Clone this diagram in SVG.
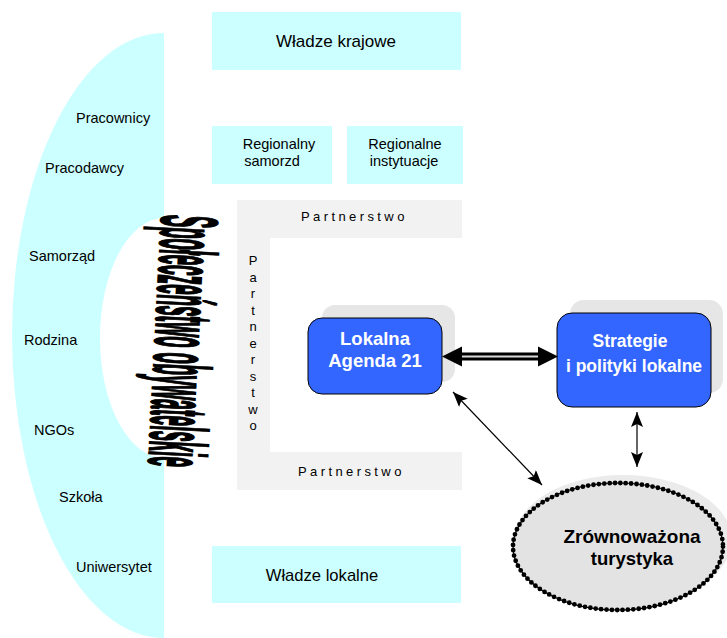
<svg xmlns="http://www.w3.org/2000/svg" width="727" height="638" viewBox="0 0 727 638">
<style>
text{font-family:"Liberation Sans",Arial,sans-serif;fill:#000}
.lbl{font-size:14.5px}
.box{fill:#ccffff}
.cyan{fill:#ccffff}
.pt{font-size:13px;letter-spacing:3.4px}
.blue{fill:#3366ff;stroke:#000;stroke-width:1}
.shadow{fill:#e6e6e6}
.wt{fill:#fff;font-weight:bold;text-anchor:middle}
.ln{stroke:#000;stroke-width:1.2;fill:none}
</style>
<defs>
<marker id="ah" markerUnits="userSpaceOnUse" markerWidth="16" markerHeight="12" refX="15" refY="6" orient="auto-start-reverse" viewBox="0 0 16 12">
<path d="M0,0 L15,6 L0,12 L3,6 Z" fill="#000"/>
</marker>
</defs>

<g id="civil-society">
<path class="cyan" d="M164,33 A152,302.5 0 0 0 164,638 L164,458 A64,120 0 0 1 164,218 Z"/>
<text transform="translate(162,214) rotate(93) scale(0.2295,1)" font-size="80" font-weight="bold" stroke="#000" stroke-width="2.5">Społeczeństwo obywatelskie</text>
</g>

<g id="labels-left">
<text class="lbl" x="76" y="123">Pracownicy</text>
<text class="lbl" x="45" y="173">Pracodawcy</text>
<text class="lbl" x="29" y="261">Samorząd</text>
<text class="lbl" x="24" y="345">Rodzina</text>
<text class="lbl" x="34" y="435">NGOs</text>
<text class="lbl" x="59" y="502">Szkoła</text>
<text class="lbl" x="76" y="572">Uniwersytet</text>
</g>

<g id="wladze-krajowe">
<rect class="box" x="212" y="12" width="249" height="58"/>
<text x="336" y="47" font-size="17" text-anchor="middle">Władze krajowe</text>
</g>

<g id="regionalny-samorzad">
<rect class="box" x="212" y="126" width="120" height="58"/>
<text x="279" y="149" font-size="14.5" text-anchor="middle">Regionalny</text>
<text x="272" y="166" font-size="14.5" text-anchor="middle">samorzd</text>
</g>

<g id="regionalne-instytucje">
<rect class="box" x="347" y="126" width="116" height="58"/>
<text x="405" y="149" font-size="14.5" text-anchor="middle">Regionalne</text>
<text x="404" y="166" font-size="14.5" text-anchor="middle">instytuacje</text>
</g>

<g id="wladze-lokalne">
<rect class="box" x="212" y="546" width="249" height="57"/>
<text x="322" y="581" font-size="16.6" text-anchor="middle">Władze lokalne</text>
</g>

<g id="partnerstwo">
<path fill="#f2f2f2" d="M237,200 H462 V238 H270 V452 H462 V490 H237 Z"/>
<text class="pt" x="301" y="221">Partnerstwo</text>
<text class="pt" x="298" y="476">Partnerstwo</text>
<text font-size="13" text-anchor="middle">
<tspan x="253" y="265">P</tspan><tspan x="253" y="281.5">a</tspan><tspan x="253" y="298">r</tspan><tspan x="253" y="314.5">t</tspan><tspan x="253" y="331">n</tspan><tspan x="253" y="347.5">e</tspan><tspan x="253" y="364">r</tspan><tspan x="253" y="380.5">s</tspan><tspan x="253" y="397">t</tspan><tspan x="253" y="413.5">w</tspan><tspan x="253" y="430">o</tspan>
</text>
</g>

<g id="lokalna-agenda">
<rect class="shadow" x="322" y="305" width="133" height="77" rx="13"/>
<rect class="blue" x="308" y="318" width="134" height="76" rx="14"/>
<text class="wt" x="375" y="345" font-size="18.5">Lokalna</text>
<text class="wt" x="375" y="367" font-size="18.5">Agenda 21</text>
</g>

<g id="strategie">
<rect class="shadow" x="570" y="300" width="153" height="93" rx="14"/>
<rect class="blue" x="557" y="313" width="154" height="94" rx="15"/>
<text class="wt" x="630" y="347" font-size="17.5">Strategie</text>
<text class="wt" x="634" y="372" font-size="17.5">i polityki lokalne</text>
</g>

<g id="turystyka">
<ellipse cx="623" cy="540" rx="109" ry="65" fill="#ebebeb"/>
<ellipse cx="618" cy="546.5" rx="105" ry="63.5" fill="#e3e3e3" stroke="#000" stroke-width="1.2"/>
<ellipse cx="618" cy="546.5" rx="105" ry="63.5" fill="none" stroke="#000" stroke-width="4.8" stroke-linecap="round" stroke-dasharray="0 5.4"/>
<text x="632" y="543" font-size="19" font-weight="bold" text-anchor="middle" fill="#1a1a1a">Zrównoważona</text>
<text x="632" y="565" font-size="18.5" font-weight="bold" text-anchor="middle" fill="#1a1a1a">turystyka</text>
</g>

<g id="connectors">
<line x1="458" y1="356.5" x2="542" y2="356.5" stroke="#000" stroke-width="8"/>
<line x1="458" y1="356.5" x2="542" y2="356.5" stroke="#d9d9d9" stroke-width="2"/>
<polygon points="442,356.5 462,346.5 462,366.5" fill="#000"/>
<polygon points="558,356.5 538,346.5 538,366.5" fill="#000"/>
<line class="ln" x1="453" y1="392" x2="542" y2="485" marker-start="url(#ah)" marker-end="url(#ah)"/>
<line x1="637" y1="412" x2="637" y2="467" stroke="#333" stroke-width="1.5" marker-start="url(#ah)" marker-end="url(#ah)"/>
</g>
</svg>
